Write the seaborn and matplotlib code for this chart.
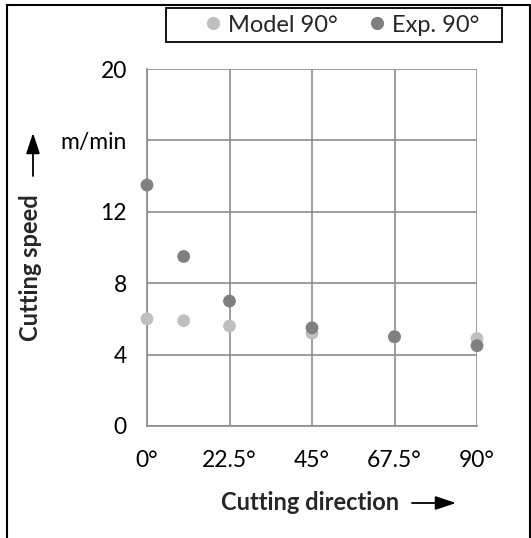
import numpy as np
import pandas as pd
import matplotlib
matplotlib.use("Agg")
import matplotlib.pyplot as plt
from matplotlib.patches import Rectangle, FancyArrowPatch
import seaborn as sns

# data
direction = [0, 10, 22.5, 45, 67.5, 90]
model_90 = [6.0, 5.9, 5.6, 5.2, 5.0, 4.9]
exp_90 = [13.5, 9.5, 7.0, 5.5, 5.0, 4.5]
x_ticks = [0, 22.5, 45, 67.5, 90]
x_labels = ["0°", "22.5°", "45°", "67.5°", "90°"]
y_ticks = [0, 4, 8, 12, 16, 20]
y_labels = ["0", "4", "8", "12", "m/min", "20"]

df = pd.DataFrame({
    "direction": direction * 2,
    "speed": model_90 + exp_90,
    "series": ["Model 90°"] * len(direction) + ["Exp. 90°"] * len(direction),
})

sns.set_style("white")
plt.rcParams["font.family"] = ["Lato", "DejaVu Sans"]

grid_c = "#8c8c8c"
fig = plt.figure(figsize=(5.31, 5.38), dpi=100)
ax = fig.add_axes([147 / 531, 1 - 426 / 538, 330 / 531, 357 / 538])

pal = {"Model 90°": "#bfbfbf", "Exp. 90°": "#808080"}
sns.scatterplot(data=df, x="direction", y="speed", hue="series", palette=pal,
                s=85, edgecolor="none", ax=ax, legend=False, clip_on=False, zorder=3)

ax.set_xlim(0, 90)
ax.set_ylim(0, 20)
ax.set_xticks(x_ticks)
ax.set_xticklabels(x_labels)
ax.set_yticks(y_ticks)
ax.set_yticklabels(y_labels)
ax.grid(True, color=grid_c, linewidth=1.2)
for s in ["top", "right"]:
    ax.spines[s].set_visible(False)
for s in ["left", "bottom"]:
    ax.spines[s].set_color(grid_c)
    ax.spines[s].set_linewidth(1.2)
ax.tick_params(axis="both", direction="out", length=6.5, width=1.2, color=grid_c,
               labelsize=16.5, labelcolor="black")
ax.tick_params(axis="x", pad=11)
ax.tick_params(axis="y", pad=8)
ax.set_xlabel("")
ax.set_ylabel("")

# axis titles with arrows
fig.text(310 / 531, 1 - 503 / 538, "Cutting direction", ha="center", va="center",
         fontsize=17, fontweight="bold")
fig.add_artist(FancyArrowPatch(
    (412 / 531, 1 - 503 / 538), (456 / 531, 1 - 503 / 538), transform=fig.transFigure,
    arrowstyle="-|>,head_length=0.9,head_width=0.3", mutation_scale=14,
    color="black", lw=1.3, shrinkA=0, shrinkB=0))
fig.text(31 / 531, 1 - 268 / 538, "Cutting speed", ha="center", va="center",
         rotation=90, fontsize=17, fontweight="bold")
fig.add_artist(FancyArrowPatch(
    (33 / 531, 1 - 176 / 538), (33 / 531, 1 - 133 / 538), transform=fig.transFigure,
    arrowstyle="-|>,head_length=0.9,head_width=0.3", mutation_scale=14,
    color="black", lw=1.3, shrinkA=0, shrinkB=0))

# legend (frame drawn separately)
handles = [plt.Line2D([], [], marker="o", linestyle="", markersize=9.5,
                      markerfacecolor=pal[k], markeredgecolor="none") for k in pal]
fig.legend(handles, list(pal.keys()), loc="center", ncol=2,
           bbox_to_anchor=(340 / 531, 1 - 25 / 538), fontsize=17, frameon=False,
           handletextpad=0.15, columnspacing=1.15,
           borderpad=0, handlelength=1.0, borderaxespad=0)
fig.add_artist(Rectangle((166 / 531, 1 - 42 / 538), 336 / 531, 34 / 538,
                         transform=fig.transFigure, fill=False, edgecolor="black", lw=1.3))

# outer frame
fig.add_artist(Rectangle((7 / 531, -0.01), 523 / 531, 1 - 5 / 538 + 0.01,
                         transform=fig.transFigure, fill=False, edgecolor="black", lw=1.5))

fig.savefig("out.png", dpi=100)
